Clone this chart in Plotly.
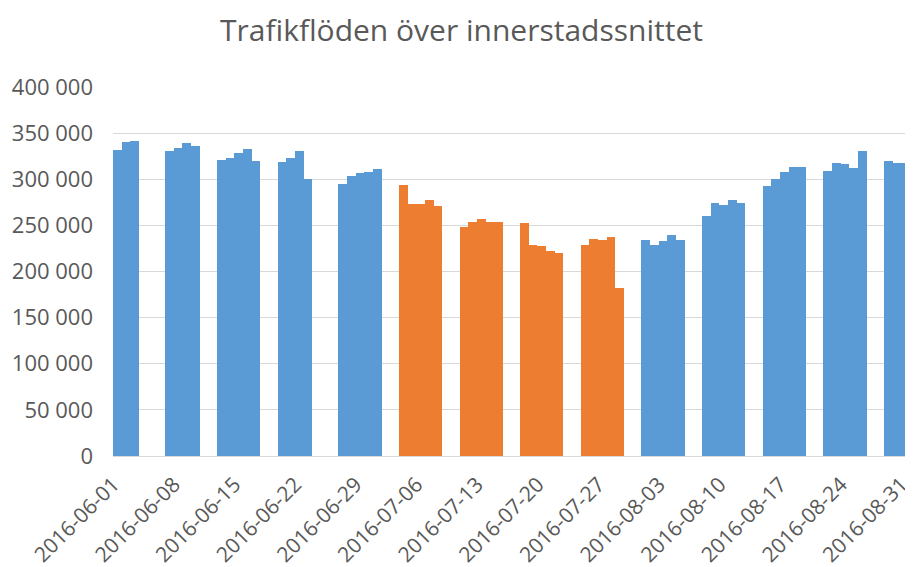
import plotly.graph_objects as go

dates = [
    "2016-06-01", "2016-06-02", "2016-06-03",
    "2016-06-07", "2016-06-08", "2016-06-09", "2016-06-10",
    "2016-06-13", "2016-06-14", "2016-06-15", "2016-06-16", "2016-06-17",
    "2016-06-20", "2016-06-21", "2016-06-22", "2016-06-23",
    "2016-06-27", "2016-06-28", "2016-06-29", "2016-06-30", "2016-07-01",
    "2016-07-04", "2016-07-05", "2016-07-06", "2016-07-07", "2016-07-08",
    "2016-07-11", "2016-07-12", "2016-07-13", "2016-07-14", "2016-07-15",
    "2016-07-18", "2016-07-19", "2016-07-20", "2016-07-21", "2016-07-22",
    "2016-07-25", "2016-07-26", "2016-07-27", "2016-07-28", "2016-07-29",
    "2016-08-01", "2016-08-02", "2016-08-03", "2016-08-04", "2016-08-05",
    "2016-08-08", "2016-08-09", "2016-08-10", "2016-08-11", "2016-08-12",
    "2016-08-15", "2016-08-16", "2016-08-17", "2016-08-18", "2016-08-19",
    "2016-08-22", "2016-08-23", "2016-08-24", "2016-08-25", "2016-08-26",
    "2016-08-29", "2016-08-30", "2016-08-31",
]
values = [
    331500, 339900, 341000,
    330100, 334400, 339500, 335900,
    320700, 322900, 328600, 332600, 320300,
    318900, 322900, 330100, 300800,
    295300, 303300, 306600, 307600, 311600,
    294200, 273500, 273500, 277800, 270900,
    248200, 253600, 256500, 253600, 253600,
    252500, 228900, 227500, 222000, 220200,
    228900, 235500, 234400, 237300, 181600,
    234100, 228600, 232600, 239500, 234100,
    260500, 274300, 271700, 277200, 274300,
    292400, 300700, 308000, 313000, 313000,
    309100, 317800, 316300, 312300, 330100,
    320300, 317800, 317800,
]
# Summer period highlighted in orange
summer_first = "2016-07-04"
summer_last = "2016-07-31"

BLUE = "#5B9BD5"
ORANGE = "#ED7D31"
colors = [ORANGE if summer_first <= d <= summer_last else BLUE for d in dates]

DAY_MS = 86400000

fig = go.Figure()
fig.add_trace(go.Bar(
    x=dates, y=values,
    width=[DAY_MS] * len(dates),
    marker=dict(color=colors, line=dict(width=0)),
    showlegend=False,
))

font_family = "Open Sans, Noto Sans, sans-serif"
gray = "#595959"

# page has an 8px body margin, so the figure is sized/offset to compensate
W, H = 905, 559
fig.update_layout(
    width=W, height=H,
    margin=dict(l=105, r=3, t=79, b=111, autoexpand=False),
    paper_bgcolor="white", plot_bgcolor="white",
    separators=", ",
    bargap=0,
    title=dict(
        text="Trafikflöden över innerstadssnittet",
        font=dict(family=font_family, size=30, color=gray),
        x=453.5 / W, xanchor="center",
        y=1 - 22 / H, yanchor="middle", yref="container",
    ),
    font=dict(family=font_family, color=gray, size=22),
)
fig.update_xaxes(
    type="date",
    range=["2016-05-31 12:00", "2016-08-31 12:00"],
    tick0="2016-06-01", dtick=7 * DAY_MS,
    tickformat="%Y-%m-%d",
    tickangle=-45,
    tickfont=dict(family=font_family, size=21, color=gray),
    showgrid=False,
    showline=True, linecolor="#D9D9D9", linewidth=1,
    ticks="",
    automargin=False,
    ticklabeloverflow="allow",
    ticklabelstandoff=7,
    ticklabelshift=-4,
)
fig.update_yaxes(
    range=[0, 400000],
    tick0=0, dtick=50000,
    tickformat=",d",
    tickfont=dict(family=font_family, size=22, color=gray),
    showgrid=True, gridcolor="#D9D9D9", gridwidth=1,
    zeroline=False,
    showline=False,
    ticks="",
    ticklabelstandoff=19,
    automargin=False,
)

fig.write_html("out.html")
